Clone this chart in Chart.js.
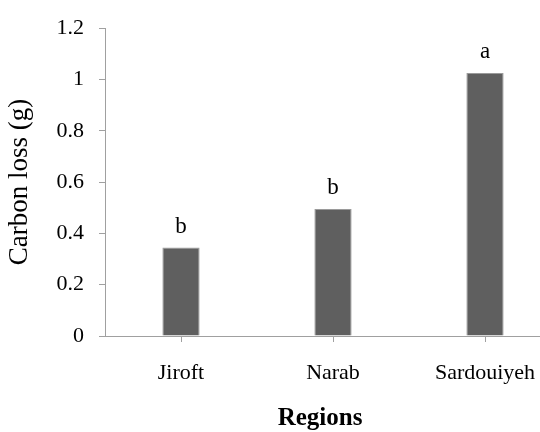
<!DOCTYPE html>
<html>
<head>
<meta charset="utf-8">
<script src="https://cdn.jsdelivr.net/npm/chart.js@4/dist/chart.umd.min.js"></script>
<style>
  html, body { margin: 0; padding: 0; background: #fff; overflow: hidden; }
  #wrap { width: 540px; height: 432px; overflow: hidden; position: relative; }
  canvas { display: block; }
</style>
</head>
<body>
<div id="wrap"><canvas id="chart" width="570" height="432"></canvas></div>
<script>
// Carbon loss per region, with significance letters above each bar
const regions = ['Jiroft', 'Narab', 'Sardouiyeh'];
const carbonLoss = [0.345, 0.495, 1.025];
const sigLetters = ['b', 'b', 'a'];
const xTitle = 'Regions';
const yTitle = 'Carbon loss (g)';

const serif = '"Liberation Serif", "Times New Roman", Times, serif';
const axisGray = '#a0a0a0';

// Significance letters above the bars and the category-axis title
const labelPlugin = {
  id: 'sigLetters',
  afterDatasetsDraw(chart) {
    const ctx = chart.ctx;
    const meta = chart.getDatasetMeta(0);
    ctx.save();
    ctx.font = '23px ' + serif;
    ctx.fillStyle = '#000';
    ctx.textAlign = 'center';
    ctx.textBaseline = 'alphabetic';
    meta.data.forEach((bar, i) => {
      ctx.fillText(sigLetters[i], bar.x, bar.y - 15);
    });
    ctx.font = 'bold 25px ' + serif;
    ctx.textBaseline = 'middle';
    ctx.fillText(xTitle, 320, 419);
    ctx.restore();
  }
};

new Chart(document.getElementById('chart'), {
  type: 'bar',
  data: {
    labels: regions,
    datasets: [{
      data: carbonLoss,
      backgroundColor: '#5f5f5f',
      borderColor: '#9a9a9a',
      borderWidth: 1,
      categoryPercentage: 1,
      barPercentage: 0.245
    }]
  },
  options: {
    responsive: false,
    animation: false,
    layout: { padding: { left: 0, top: 24, right: 9, bottom: 0 } },
    plugins: { legend: { display: false }, tooltip: { enabled: false } },
    scales: {
      x: {
        offset: true,
        grid: {
          offset: false,
          drawOnChartArea: false,
          drawTicks: true,
          tickLength: 6,
          color: axisGray
        },
        border: { display: true, color: axisGray, width: 1 },
        ticks: { color: '#000', font: { family: serif, size: 22 }, padding: 18, maxRotation: 0 },
        title: { display: false },
        afterFit(scale) { scale.height = 96; }
      },
      y: {
        min: 0,
        max: 1.2,
        ticks: {
          stepSize: 0.2,
          color: '#000',
          font: { family: serif, size: 22 },
          padding: 15,
          callback: (v) => String(Number(v.toFixed(1)))
        },
        grid: {
          drawOnChartArea: false,
          drawTicks: true,
          tickLength: 6,
          color: axisGray
        },
        border: { display: true, color: axisGray, width: 1 },
        title: {
          display: true,
          text: yTitle,
          color: '#000',
          font: { family: serif, size: 27, lineHeight: 1.2 },
          padding: { top: 4, bottom: 0 }
        },
        afterFit(scale) { scale.width = 105; }
      }
    }
  },
  plugins: [labelPlugin]
});
</script>
</body>
</html>
